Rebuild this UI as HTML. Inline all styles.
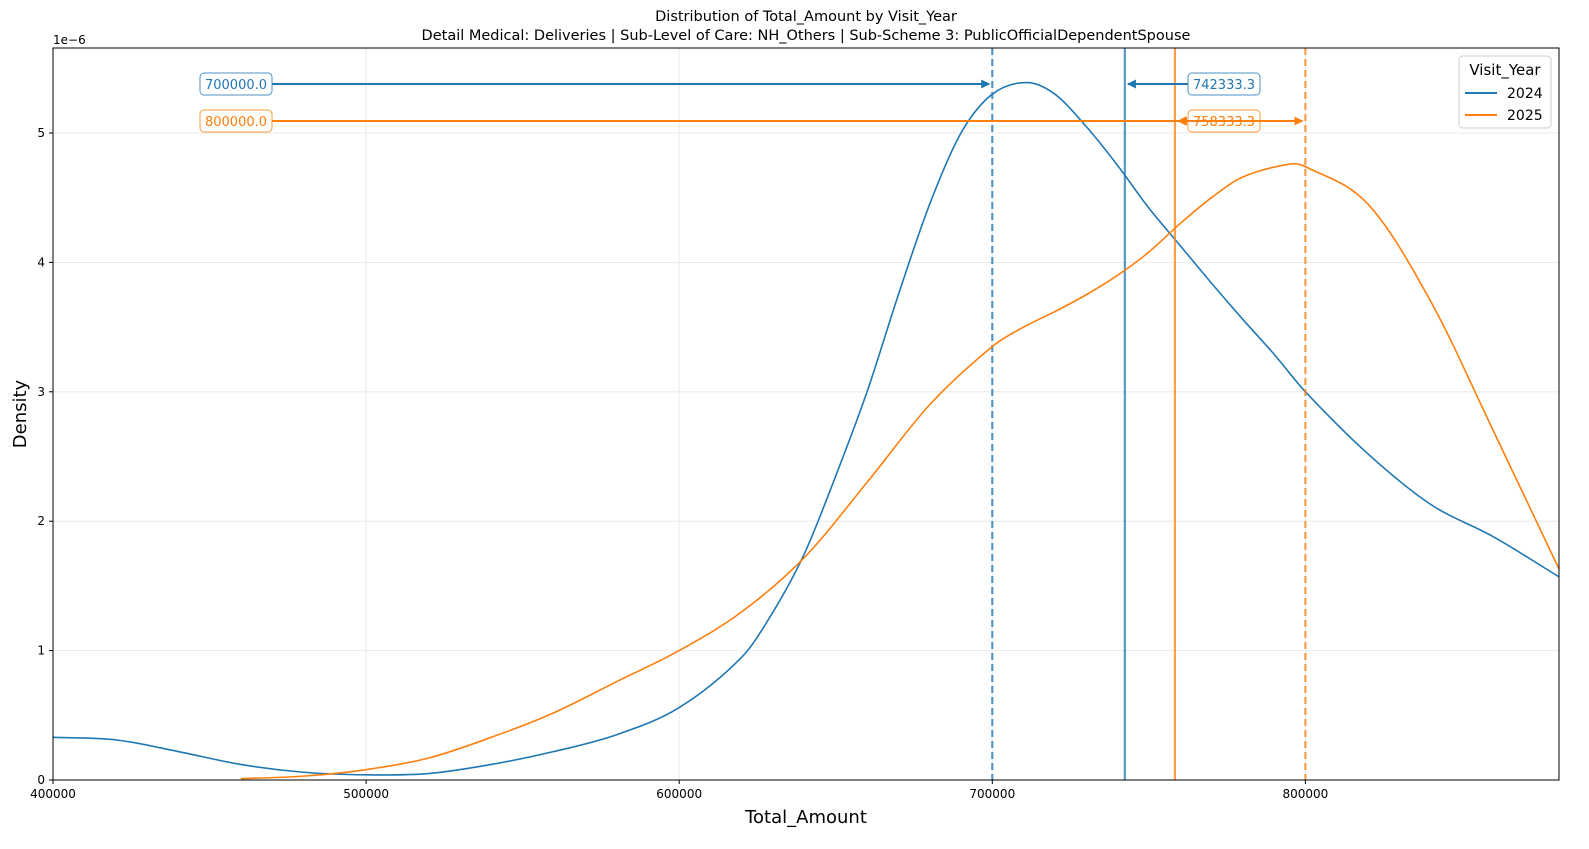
<!DOCTYPE html>
<html><head><meta charset="utf-8"><style>
html,body{margin:0;padding:0;background:#fff;overflow:hidden;width:1589px;height:849px;font-family:"Liberation Sans","DejaVu Sans",sans-serif;}
svg{display:block;}
svg text{font-family:"DejaVu Sans","Liberation Sans",sans-serif;}
</style></head><body>
<svg id="c" width="1589" height="849" xmlns="http://www.w3.org/2000/svg">
<text x="806" y="21" text-anchor="middle" font-size="14.5">Distribution of Total_Amount by Visit_Year</text>
<text x="806" y="40" text-anchor="middle" font-size="14.5">Detail Medical: Deliveries | Sub-Level of Care: NH_Others | Sub-Scheme 3: PublicOfficialDependentSpouse</text>
<g id="grid"></g><g id="marks"></g><g id="axes"></g>
</svg>
<script>
const xTicks=[400000,500000,600000,700000,800000];
const yTicks=[0,1,2,3,4,5];
const series2024X=[400000,420000,440000,460000,480000,500000,520000,540000,560000,580000,600000,620000,630000,640000,650000,660000,670000,680000,690000,700000,711000,720000,730000,740000,750000,760000,770000,780000,790000,800000,820000,840000,860000,881000];
const series2024Y=[0.33,0.31,0.22,0.12,0.06,0.04,0.05,0.12,0.22,0.35,0.56,0.95,1.3,1.75,2.35,3.0,3.75,4.45,5.0,5.3,5.39,5.3,5.05,4.75,4.42,4.13,3.84,3.56,3.29,3.0,2.52,2.13,1.88,1.57];
const series2025X=[460000,480000,500000,520000,540000,560000,580000,600000,620000,640000,660000,680000,700000,710000,720000,730000,740000,750000,760000,770000,780000,795000,800000,820000,840000,860000,881000];
const series2025Y=[0.01,0.03,0.08,0.17,0.33,0.52,0.76,1.0,1.3,1.72,2.3,2.9,3.35,3.5,3.62,3.75,3.9,4.08,4.3,4.5,4.66,4.76,4.74,4.45,3.7,2.7,1.63];
const medians=[700000,800000];
const means=[742333.3,758333.3];
const years=["2024","2025"];
const colors=["#1f77b4","#ff7f0e"];
const L=53,R=1559,T=48,B=780;
const X=v=>L+(v-400000)/100000*313.1;
const Y=v=>B-v*129.4;
const NS="http://www.w3.org/2000/svg";
function mk(t,a,p){const e=document.createElementNS(NS,t);for(const k in a)e.setAttribute(k,a[k]);p.appendChild(e);return e;}
const grid=document.getElementById('grid'),marks=document.getElementById('marks'),axes=document.getElementById('axes');
xTicks.forEach(t=>{
 const g=mk('line',{x1:X(t),x2:X(t),y1:T,y2:B,stroke:'#e5e5e5','stroke-width':0.8},grid);
 
 
 mk('line',{x1:X(t),x2:X(t),y1:B,y2:B+4,stroke:'#000'},axes);
 const tx=mk('text',{x:X(t),y:B+18,'text-anchor':'middle','font-size':12},axes);tx.textContent=t;
 
 
});
yTicks.forEach(t=>{
 const g=mk('line',{x1:L,x2:R,y1:Y(t),y2:Y(t),stroke:'#e5e5e5','stroke-width':0.8},grid);
 
 
 mk('line',{x1:L-4,x2:L,y1:Y(t),y2:Y(t),stroke:'#000'},axes);
 const tx=mk('text',{x:L-8,y:Y(t)+4,'text-anchor':'end','font-size':12},axes);tx.textContent=t;
 
 
});
function path(xs,ys){
 const p=xs.map((x,i)=>[X(x),Y(ys[i])]);
 const n=p.length,m=[];
 for(let i=0;i<n;i++){
  const a=p[Math.max(i-1,0)],b=p[Math.min(i+1,n-1)];
  m.push((b[1]-a[1])/(b[0]-a[0]));
 }
 let d=`M${p[0][0]},${p[0][1]}`;
 for(let i=0;i<n-1;i++){
  const dx=(p[i+1][0]-p[i][0])/3;
  d+=` C${p[i][0]+dx},${p[i][1]+m[i]*dx} ${p[i+1][0]-dx},${p[i+1][1]-m[i+1]*dx} ${p[i+1][0]},${p[i+1][1]}`;
 }
 return d;
}
const defs=mk('defs',{},document.getElementById('c'));
defs.innerHTML=`<clipPath id="clip"><rect x="${L}" y="${T}" width="${R-L}" height="${B-T}"/></clipPath>`+
colors.map((c,i)=>`<marker id="ar${i}" viewBox="0 0 10 10" refX="9" refY="5" markerWidth="4.5" markerHeight="4.5" orient="auto-start-reverse"><path d="M0,0 L10,5 L0,10z" fill="${c}"/></marker>`).join('');
marks.setAttribute('clip-path','url(#clip)');
[[series2024X,series2024Y],[series2025X,series2025Y]].forEach((s,i)=>{
 const p=mk('path',{d:path(s[0],s[1]),fill:'none',stroke:colors[i],'stroke-width':1.6},marks);
 
 
 const m=mk('line',{x1:X(medians[i]),x2:X(medians[i]),y1:T,y2:B,stroke:colors[i],'stroke-width':2.2,'stroke-dasharray':'7,4',opacity:0.75},marks);
 
 
 const n=mk('line',{x1:X(means[i]),x2:X(means[i]),y1:T,y2:B,stroke:colors[i],'stroke-width':2.2,opacity:0.75},marks);
 
 
});
const annY=[84,121];
[0,1].forEach(i=>{
 const c=colors[i],y=annY[i];
 const a1=mk('line',{x1:272,x2:X(medians[i])-3,y1:y,y2:y,stroke:c,'stroke-width':2,'marker-end':`url(#ar${i})`},axes);
 
 
 const a2=mk('line',{x1:1188,x2:X(means[i])+3,y1:y,y2:y,stroke:c,'stroke-width':2,'marker-end':`url(#ar${i})`},axes);
 
 
 [[236,medians[i].toFixed(1),'median-label-'],[1224,means[i].toFixed(1),'mean-label-']].forEach(([cx,txt,nm])=>{
  const g=mk('g',{},axes);
  
  
  mk('rect',{x:cx-36,y:y-11,width:72,height:22,rx:4,fill:'#fff','fill-opacity':0.8,stroke:c,'stroke-opacity':0.8},g);
  const t=mk('text',{x:cx,y:y+5,'text-anchor':'middle','font-size':13,fill:c},g);t.textContent=txt;
 });
});
const oa=mk('line',{x1:1179,x2:X(medians[1])-3,y1:121,y2:121,stroke:colors[1],'stroke-width':2,'marker-end':'url(#ar1)','marker-start':'url(#ar1)'},axes);


const fr=mk('rect',{x:L,y:T,width:R-L,height:B-T,fill:'none',stroke:'#000','stroke-width':1},axes);


const ex=mk('text',{x:53,y:44,'font-size':12},axes);ex.textContent='1e\u22126';


const xt=mk('text',{x:806,y:823,'text-anchor':'middle','font-size':18},axes);xt.textContent='Total_Amount';


const yt=mk('text',{x:26,y:414,'text-anchor':'middle','font-size':18,transform:'rotate(-90 26 414)'},axes);yt.textContent='Density';


const lg=mk('g',{},axes);


mk('rect',{x:1459,y:56,width:92,height:72,rx:4,fill:'#fff','fill-opacity':0.8,stroke:'#ccc'},lg);
const lt=mk('text',{x:1505,y:75,'text-anchor':'middle','font-size':15},lg);lt.textContent='Visit_Year';
years.forEach((yr,i)=>{
 const e=mk('g',{},lg);
 
 
 mk('line',{x1:1465,x2:1497,y1:93+i*22,y2:93+i*22,stroke:colors[i],'stroke-width':2},e);
 const t=mk('text',{x:1507,y:98+i*22,'font-size':14},e);t.textContent=yr;
});
</script>
</body></html>
